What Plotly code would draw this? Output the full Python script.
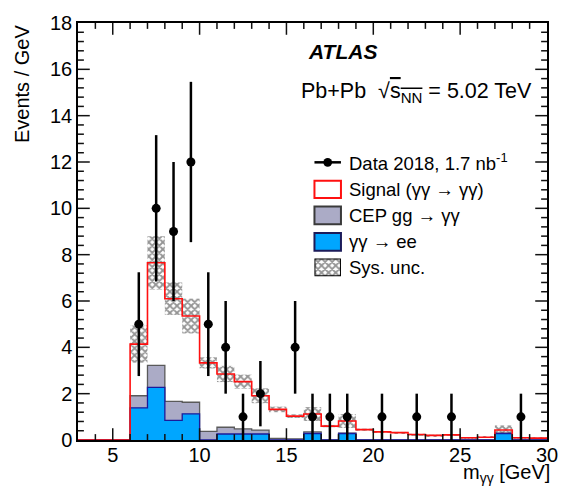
import plotly.graph_objects as go

# ---------------- data ----------------
bin_edges = list(range(3, 31))  # 1 GeV bins, 3..30 GeV

# stacked-histogram heights per bin (Events / GeV), bins 3-4 ... 29-30
signal_total = [0, 0, 0, 4.14, 7.65, 6.10, 5.35, 3.33, 2.85, 2.52, 1.91, 1.32, 1.03,
                1.12, 0.60, 0.82, 0.45, 0.35, 0.32, 0.24, 0.20, 0.22, 0.10, 0.12,
                0.43, 0.10, 0.08]
cep_gg_total = [0, 0, 0, 1.91, 3.22, 1.67, 1.63, 0.37, 0.55, 0.48, 0.43, 0.07, 0.05,
                0.35, 0.0, 0.30, 0, 0, 0, 0, 0, 0, 0, 0, 0.30, 0, 0]
ee_yield = [0, 0, 0, 1.39, 2.27, 0.85, 1.13, 0.0, 0.26, 0.26, 0.26, 0.0, 0.0,
            0.28, 0.0, 0.28, 0, 0, 0, 0, 0, 0, 0, 0, 0.28, 0, 0]
sys_unc = [0, 0, 0, 0.80, 1.15, 0.70, 0.75, 0.24, 0.35, 0.30, 0.32, 0.12, 0.08,
           0.30, 0.05, 0.30, 0.04, 0.03, 0.03, 0.03, 0.03, 0.03, 0.03, 0.03,
           0.20, 0.03, 0.03]

data_x = [6.5, 7.5, 8.5, 9.5, 10.5, 11.5, 12.5, 13.5, 15.5, 16.5, 17.5, 18.5,
          20.5, 22.5, 24.5, 28.5]
data_y = [5, 10, 9, 12, 5, 4, 1, 2, 4, 1, 1, 1, 1, 1, 1, 1]
data_err = [2.24, 3.16, 3.0, 3.46, 2.24, 2.0, 1.0, 1.41, 2.0, 1.0, 1.0, 1.0,
            1.0, 1.0, 1.0, 1.0]

x_range = [3, 30]
y_range = [0, 18]
x_major, x_minor = 5, 1
y_major, y_minor = 2, 0.4

# ---------------- styling ----------------
FONT = "Liberation Sans, Arial, Helvetica, sans-serif"
BLUE = "#00A6FF"
BLUE_EDGE = "#1B1B9A"
GREY = "#ABABC6"
GREY_EDGE = "#5A5A5A"
RED = "#FF1010"
HATCH = dict(shape="x", size=5, solidity=0.6, fgcolor="#2A2A2A",
             bgcolor="rgba(255,255,255,0.6)")

W, H = 570, 491
L, R, T, B = 78, 14, 15, 51
PW, PH = W - L - R, H - T - B
MAJ, MIN = 12, 6  # tick lengths in px


def px(x):
    return (x - L) / PW


def py(y):
    return (H - B - y) / PH


def step(vals):
    return bin_edges, list(vals) + [vals[-1]]


centers = [e + 0.5 for e in bin_edges[:-1]]

fig = go.Figure()

# CEP gg -> yy (stacked total, drawn first)
sx, sy = step(cep_gg_total)
fig.add_trace(go.Scatter(x=sx, y=sy, mode="lines", line_shape="hv",
                         line=dict(color=GREY_EDGE, width=1.3),
                         fill="tozeroy", fillcolor=GREY, showlegend=False))
# yy -> ee
sx, sy = step(ee_yield)
fig.add_trace(go.Scatter(x=sx, y=sy, mode="lines", line_shape="hv",
                         line=dict(color=BLUE_EDGE, width=1.3),
                         fill="tozeroy", fillcolor=BLUE, showlegend=False))

# systematic band (hatched)
sys_x = [c for c, s in zip(centers, sys_unc) if s > 0]
sys_base = [t - s for t, s in zip(signal_total, sys_unc) if s > 0]
sys_h = [2 * s for s in sys_unc if s > 0]
fig.add_trace(go.Bar(x=sys_x, y=sys_h, base=sys_base, width=1.0,
                     marker=dict(color="#2A2A2A", line=dict(width=0), pattern=HATCH),
                     showlegend=False))

# signal (total) red line
sx, sy = step(signal_total)
fig.add_trace(go.Scatter(x=sx, y=sy, mode="lines", line_shape="hv",
                         line=dict(color=RED, width=1.6), showlegend=False))

# data
fig.add_trace(go.Scatter(x=data_x, y=data_y, mode="markers",
                         marker=dict(color="black", size=9),
                         error_y=dict(type="data", array=data_err, width=0,
                                      thickness=2.5, color="black"),
                         showlegend=False))

# hatched legend swatch (own tiny axes)
fig.add_trace(go.Bar(x=[0.5], y=[1], width=[1], xaxis="x2", yaxis="y2",
                     marker=dict(color="#2A2A2A", line=dict(width=2, color="black"),
                                 pattern=HATCH),
                     showlegend=False))

axis_common = dict(ticks="", showline=True, linecolor="black", linewidth=1.5,
                   mirror=True, showgrid=False, zeroline=False,
                   tickmode="linear", tick0=0,
                   tickfont=dict(family=FONT, size=20, color="black"))

fig.update_layout(
    width=W, height=H,
    margin=dict(l=L, r=R, t=T, b=B),
    paper_bgcolor="white", plot_bgcolor="white",
    barmode="overlay",
    xaxis=dict(range=x_range, dtick=x_major, ticklabelstandoff=-4, **axis_common),
    yaxis=dict(range=y_range, dtick=y_major, **axis_common),
    xaxis2=dict(domain=[px(319), px(346)], range=[0, 1], visible=False,
                anchor="y2"),
    yaxis2=dict(domain=[py(273), py(255)], range=[0, 1], visible=False,
                anchor="x2"),
    showlegend=False,
)

ann = []
shapes = []

# inside tick marks (ROOT style, on all four sides); positions follow the linear
# axis scale (fraction of the axis range == fraction of the plot domain)
tick_line = dict(color="#111111", width=1.5)
nx = int(round((x_range[1] - x_range[0]) / x_minor))
for i in range(1, nx):
    xv = x_range[0] + i * x_minor
    xf = (xv - x_range[0]) / (x_range[1] - x_range[0])
    ln = MAJ if xv % x_major == 0 else MIN
    for ybase, sgn in ((0, 1), (1, -1)):
        shapes.append(dict(type="line", xref="paper", yref="paper", x0=xf, x1=xf,
                           y0=ybase, y1=ybase + sgn * ln / PH, line=tick_line))
ny = int(round((y_range[1] - y_range[0]) / y_minor))
for i in range(1, ny):
    yf = i * y_minor / (y_range[1] - y_range[0])
    ln = MAJ if i % int(round(y_major / y_minor)) == 0 else MIN
    for xbase, sgn in ((0, 1), (1, -1)):
        shapes.append(dict(type="line", xref="paper", yref="paper", x0=xbase,
                           x1=xbase + sgn * ln / PW, y0=yf, y1=yf, line=tick_line))

# legend
legend_rows = [
    (157, "Data 2018, 1.7 nb<sup>-1</sup>"),
    (184.5, "Signal (γγ → γγ)"),
    (211, "CEP gg → γγ"),
    (238, "γγ → ee"),
    (264, "Sys. unc."),
]
for yy, txt in legend_rows:
    ann.append(dict(x=px(352), y=py(yy), xref="paper", yref="paper",
                    xanchor="left", yanchor="middle", showarrow=False, text=txt,
                    font=dict(family=FONT, size=18.5, color="black")))

# data swatch
shapes.append(dict(type="line", xref="paper", yref="paper",
                   x0=px(319), x1=px(346), y0=py(157), y1=py(157),
                   line=dict(color="black", width=2.5)))
shapes.append(dict(type="circle", xref="paper", yref="paper",
                   x0=px(328), x1=px(337), y0=py(161.5), y1=py(152.5),
                   fillcolor="black", line=dict(color="black", width=0)))
# box swatches
for (y0, y1, fc, lc) in [(175.7, 193.3, "white", RED),
                         (202, 220, GREY, "#3A3A3A"),
                         (229, 247, BLUE, "#1B1B5A")]:
    shapes.append(dict(type="rect", xref="paper", yref="paper",
                       x0=px(319), x1=px(346), y0=py(y1), y1=py(y0),
                       fillcolor=fc, line=dict(color=lc, width=2)))

# ATLAS label
ann.append(dict(x=px(310), y=py(44), xref="paper", yref="paper",
                xanchor="left", yanchor="middle", showarrow=False,
                text="<b><i>ATLAS</i></b>",
                font=dict(family=FONT, size=21, color="black")))
ann.append(dict(x=px(303), y=py(86), xref="paper", yref="paper",
                xanchor="left", yanchor="middle", showarrow=False,
                text="Pb+Pb  √<span style='text-decoration:overline'>s<sub>NN</sub></span> = 5.02 TeV",
                font=dict(family=FONT, size=21.5, color="black")))

# axis titles
ann.append(dict(x=px(21), y=py(15), xref="paper", yref="paper",
                xanchor="center", yanchor="top", showarrow=False, textangle=-90,
                text="Events / GeV", font=dict(family=FONT, size=20, color="black")))
ann.append(dict(x=px(561), y=py(474), xref="paper", yref="paper",
                xanchor="right", yanchor="middle", showarrow=False,
                text="m<sub>γγ</sub> [GeV]", font=dict(family=FONT, size=20, color="black")))

fig.update_layout(annotations=ann, shapes=shapes)

fig.write_html("out.html", config={"displayModeBar": False},
               post_script="document.body.style.margin='0';document.body.style.overflow='hidden';")
